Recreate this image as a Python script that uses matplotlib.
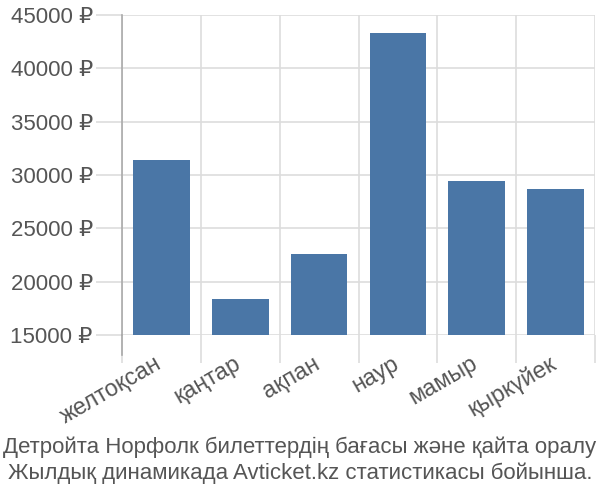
import matplotlib
matplotlib.use("Agg")
import numpy as np
from matplotlib import pyplot as plt
from matplotlib.transforms import ScaledTranslation

plt.rcParams['font.family'] = ['Liberation Sans', 'DejaVu Sans']

months = ["желтоқсан", "қаңтар", "ақпан", "наур", "мамыр", "қыркүйек"]
prices = [31400, 18350, 22600, 43350, 29400, 28700]
y_ticks = [15000, 20000, 25000, 30000, 35000, 40000, 45000]
caption = ("Детройта Норфолк билеттердің бағасы және қайта оралу\n"
           "Жылдық динамикада Avticket.kz статистикасы бойынша.")

bar_color = "#4a76a6"
grid_color = "#dddddd"
text_color = "#555555"

fig = plt.figure(figsize=(6, 5), dpi=100)
ax = fig.add_axes([0.2033, 0.33, 0.7884, 0.64])

x = np.arange(len(months))
ax.bar(x, prices, width=0.72, color=bar_color, zorder=3)

ax.set_xlim(-0.5, len(months) - 0.5)
ax.set_ylim(15000, 45000)

ax.set_yticks(y_ticks)
ax.set_yticklabels([f"{v} ₽" for v in y_ticks], fontsize=16, color=text_color)
ax.tick_params(axis='y', length=19, color=grid_color, width=1.2, pad=2)

ax.set_xticks(x)
ax.set_xticklabels(months, rotation=30, ha='right', rotation_mode='anchor',
                   fontsize=16.8, color=text_color)
ax.tick_params(axis='x', which='major', length=0, pad=12)
shift = ScaledTranslation(-0.07, 0, fig.dpi_scale_trans)
for lbl in ax.get_xticklabels():
    lbl.set_transform(lbl.get_transform() + shift)
ax.set_xticks(np.arange(len(months) + 1) - 0.5, minor=True)
ax.tick_params(axis='x', which='minor', length=20, color=grid_color, width=1.2)

ax.grid(axis='y', color=grid_color, linewidth=1.2, zorder=0)
ax.grid(axis='x', which='minor', color=grid_color, linewidth=1.2, zorder=0)

for side in ['top', 'right', 'bottom']:
    ax.spines[side].set_visible(False)
ax.spines['left'].set_color("#aaaaaa")
ax.spines['left'].set_linewidth(1.2)
ax.plot([0, 0], [0, -0.0625], transform=ax.transAxes, clip_on=False,
        color="#aaaaaa", linewidth=1.2, zorder=4)

fig.text(0.5, 0.079, caption, ha='center', va='center', fontsize=16,
         color=text_color, linespacing=1.3)

fig.savefig("out.png", dpi=100)
